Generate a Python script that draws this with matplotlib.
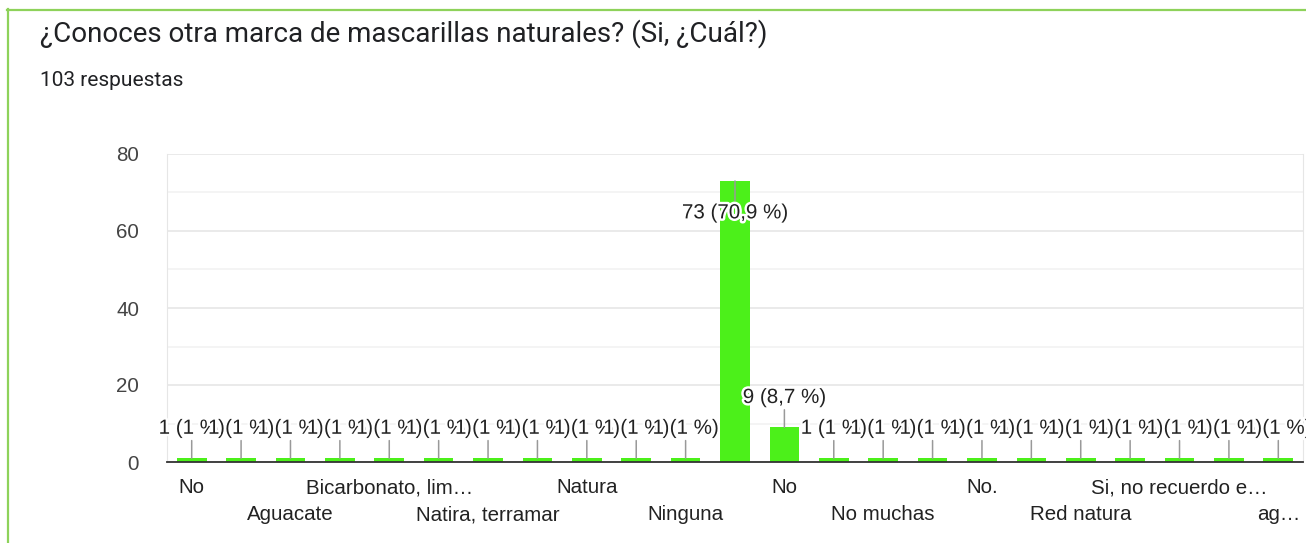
import matplotlib
matplotlib.use('Agg')
import matplotlib.pyplot as plt
import matplotlib.patheffects as pe
from matplotlib.lines import Line2D
import numpy as np

# data (even categories have no visible label)
categories = ['No', '', 'Aguacate', '', 'Bicarbonato, lim…', '', 'Natira, terramar', '',
              'Natura', '', 'Ninguna', '', 'No', '', 'No muchas', '', 'No.', '',
              'Red natura', '', 'Si, no recuerdo e…', '', 'ag…']
counts = [1, 1, 1, 1, 1, 1, 1, 1, 1, 1, 1, 73, 9, 1, 1, 1, 1, 1, 1, 1, 1, 1, 1]
total = 103
title = '¿Conoces otra marca de mascarillas naturales? (Si, ¿Cuál?)'
subtitle = '103 respuestas'
yticks = [0, 20, 40, 60, 80]

W, H = 1306, 543
fs = 14.8
fig = plt.figure(figsize=(W / 100, H / 100), dpi=100)
ax = fig.add_axes([167 / W, (H - 462) / H, (1303 - 167) / W, (462 - 154) / H])

bar_color = '#4cf01a'
x = np.arange(len(counts))
ax.bar(x, counts, width=0.6, color=bar_color, zorder=3)

ax.set_xlim(-0.5, len(counts) - 0.5)
ax.set_ylim(0, 80)
ax.set_yticks(yticks)
ax.set_yticks([10, 30, 50, 70], minor=True)
ax.grid(axis='y', which='major', color='#e6e6e6', lw=1.2, zorder=0)
ax.grid(axis='y', which='minor', color='#f2f2f2', lw=1.2, zorder=0)
ax.tick_params(axis='y', which='both', length=0, pad=20, labelsize=fs, labelcolor='#444444')
ax.set_yticklabels([str(t) for t in yticks], fontfamily='Liberation Sans')
for s in ['left', 'right', 'top']:
  ax.spines[s].set_color('#e6e6e6')
ax.spines['top'].set_visible(False)
ax.spines['bottom'].set_color('#333333')
ax.spines['bottom'].set_linewidth(1.3)
ax.spines['bottom'].set_zorder(5)
ax.set_xticks([])

# staggered category labels
row = 0
for i, c in enumerate(categories):
  if i % 2 == 1:
    continue
  off = -18.5 if row == 0 else -38
  ax.annotate(c, xy=(i, 0), xycoords=('data', 'axes fraction'),
              xytext=(0, off), textcoords='offset points', ha='center', va='center',
              fontsize=fs, color='#222222', fontfamily='Liberation Sans',
              annotation_clip=False)
  row = 1 - row

# value labels with leader lines
halo = [pe.withStroke(linewidth=3.5, foreground='white')]
for i, v in enumerate(counts):
  pct = round(v / total * 100, 1)
  ptxt = ('%.1f' % pct).replace('.', ',')
  if ptxt.endswith(',0'):
    ptxt = ptxt[:-2]
  lab = '%d (%s %%)' % (v, ptxt)
  inside = v > 0.8 * 80
  dy = -23 if inside else 21.5
  ax.annotate(lab, xy=(i, v), xytext=(0, dy), textcoords='offset points',
              ha='center', va='center', fontsize=fs, color='#222222',
              fontfamily='Liberation Sans', zorder=6 + i, path_effects=halo,
              arrowprops=dict(arrowstyle='-', color='#999999', lw=1.1,
                              shrinkA=0, shrinkB=0))

fig.text(40 / W, 1 - 34 / H, title, fontsize=20, color='#202124',
         fontfamily='Roboto', va='center', ha='left')
fig.text(40 / W, 1 - 80 / H, subtitle, fontsize=15, color='#202124',
         fontfamily='Roboto', va='center', ha='left')

# outer card border
border = '#8ed25a'
fig.add_artist(Line2D([7.5 / W, 7.5 / W], [0, 1 - 9 / H], color=border, lw=1.6))
fig.add_artist(Line2D([7 / W, 1], [1 - 9.5 / H, 1 - 9.5 / H], color=border, lw=1.6))

fig.savefig('out.png', dpi=100)
